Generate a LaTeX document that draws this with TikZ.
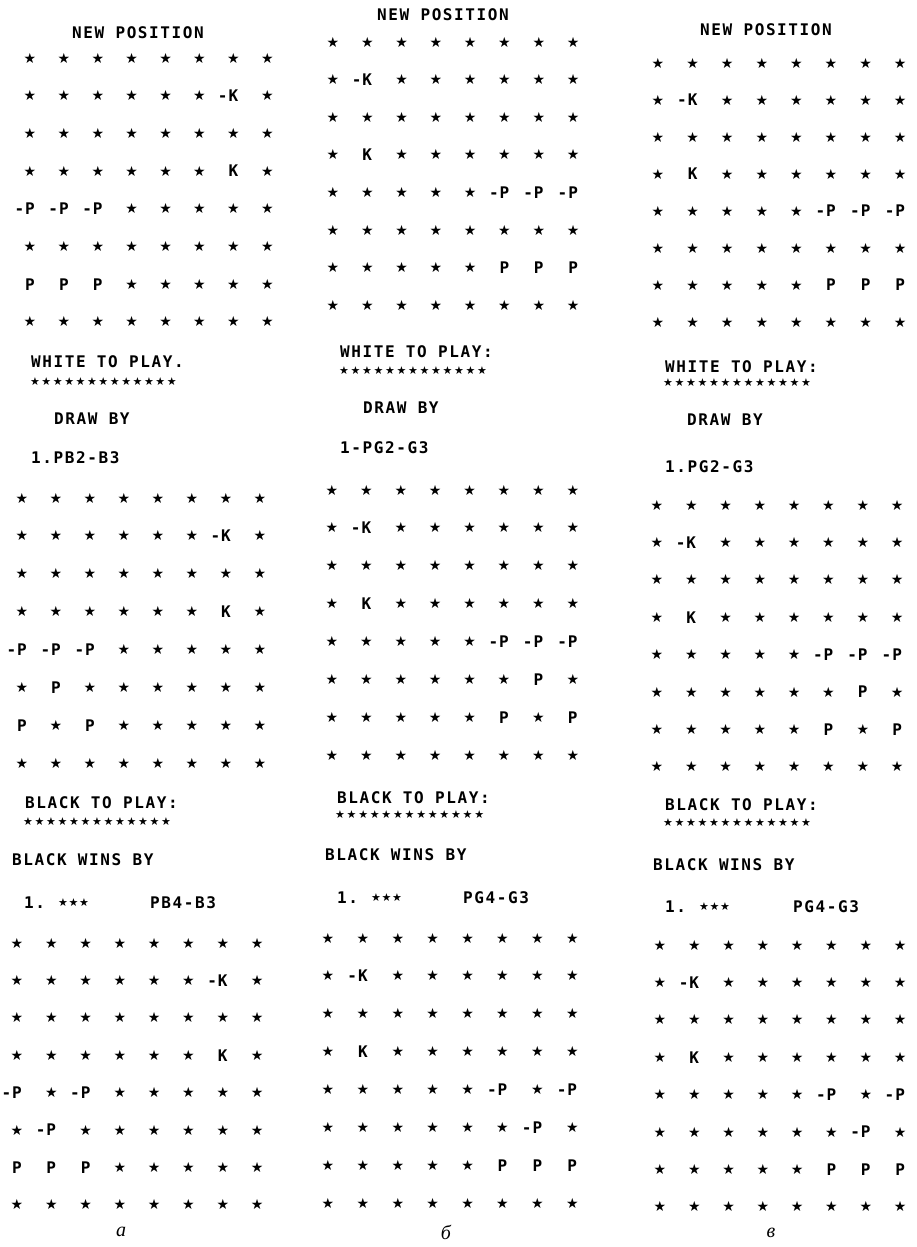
\documentclass[tikz,border=0pt]{standalone}
\usepackage{fontspec}
\newfontfamily\pfont[LetterSpace=10]{DejaVu Sans Mono Bold}
\newfontfamily\sfont{DejaVu Sans}
\newfontfamily\capfont{Liberation Serif}
\newcommand\bstar{{\sfont\fontsize{14}{14}\selectfont ★}}
\def\cells{\bstar}
\def\cellK{K}
\def\cellk{\llap{-\kern1pt}K}
\def\cellP{P}
\def\cellp{\llap{-\kern1pt}P}
\tikzset{
  cell/.style={inner sep=0pt, font=\pfont\fontsize{16}{16}\selectfont},
  txt/.style={anchor=west, inner sep=0pt, font=\pfont\fontsize{16}{16}\selectfont},
  hst/.style={inner sep=0pt, font=\sfont\fontsize{11}{11}\selectfont},
  labelcap/.style={inner sep=0pt, font=\capfont\itshape\fontsize{20}{20}\selectfont}
}
% #1 name, #2 x0, #3 dx, #4 y0, #5 dy, #6 rows
\newcommand\chessboard[6]{%
  \foreach \row [count=\r from 0] in {#6} {
    \foreach \c [count=\k from 0] in \row {
      \node[cell] (#1-\r-\k) at ({#2+\k*#3},{#4+\r*#5}) {\csname cell\c\endcsname};
    }
  }}
% #1 name, #2 x0, #3 pitch, #4 y
\newcommand\starrow[4]{%
  \foreach \i in {0,...,12} {\node[hst] (#1-\i) at ({#2+\i*#3},#4) {★};}}
% #1 name, #2 x0, #3 y
\newcommand\threestars[3]{%
  \foreach \i in {0,1,2} {\node[hst] (#1-\i) at ({#2+\i*10.5},#3) {★};}}
\begin{document}
\begin{tikzpicture}[x=1pt,y=-1pt]
\useasboundingbox (0,0) rectangle (917,1247);
% ---------------- column a ----------------
\node[txt] (a-new) at (72,33) {NEW POSITION};
\chessboard{a1}{30}{33.9}{58}{37.7}{
 {s,s,s,s,s,s,s,s},{s,s,s,s,s,s,k,s},{s,s,s,s,s,s,s,s},{s,s,s,s,s,s,K,s},
 {p,p,p,s,s,s,s,s},{s,s,s,s,s,s,s,s},{P,P,P,s,s,s,s,s},{s,s,s,s,s,s,s,s}}
\node[txt] (a-wtp) at (31,362) {WHITE TO PLAY.};
\starrow{a-ws}{35}{11.4}{382}
\node[txt] (a-draw) at (54,419) {DRAW BY};
\node[txt] (a-mv1) at (31,458) {1.PB2-B3};
\chessboard{a2}{22}{34}{498}{37.9}{
 {s,s,s,s,s,s,s,s},{s,s,s,s,s,s,k,s},{s,s,s,s,s,s,s,s},{s,s,s,s,s,s,K,s},
 {p,p,p,s,s,s,s,s},{s,P,s,s,s,s,s,s},{P,s,P,s,s,s,s,s},{s,s,s,s,s,s,s,s}}
\node[txt] (a-btp) at (25,803) {BLACK TO PLAY:};
\starrow{a-bs}{28}{11.5}{822}
\node[txt] (a-bw) at (12,860) {BLACK WINS BY};
\node[txt] (a-m1) at (24,903) {1.};
\threestars{a-d1}{63}{903}
\node[txt] (a-m2) at (150,903) {PB4-B3};
\chessboard{a3}{17}{34.3}{943}{37.4}{
 {s,s,s,s,s,s,s,s},{s,s,s,s,s,s,k,s},{s,s,s,s,s,s,s,s},{s,s,s,s,s,s,K,s},
 {p,s,p,s,s,s,s,s},{s,p,s,s,s,s,s,s},{P,P,P,s,s,s,s,s},{s,s,s,s,s,s,s,s}}
\node[labelcap] (a-lab) at (121,1232) {а};
% ---------------- column b ----------------
\node[txt] (b-new) at (377,15) {NEW POSITION};
\chessboard{b1}{333}{34.3}{42}{37.6}{
 {s,s,s,s,s,s,s,s},{s,k,s,s,s,s,s,s},{s,s,s,s,s,s,s,s},{s,K,s,s,s,s,s,s},
 {s,s,s,s,s,p,p,p},{s,s,s,s,s,s,s,s},{s,s,s,s,s,P,P,P},{s,s,s,s,s,s,s,s}}
\node[txt] (b-wtp) at (340,352) {WHITE TO PLAY:};
\starrow{b-ws}{344}{11.5}{371}
\node[txt] (b-draw) at (363,408) {DRAW BY};
\node[txt] (b-mv1) at (340,448) {1-PG2-G3};
\chessboard{b2}{332}{34.4}{490}{37.9}{
 {s,s,s,s,s,s,s,s},{s,k,s,s,s,s,s,s},{s,s,s,s,s,s,s,s},{s,K,s,s,s,s,s,s},
 {s,s,s,s,s,p,p,p},{s,s,s,s,s,s,P,s},{s,s,s,s,s,P,s,P},{s,s,s,s,s,s,s,s}}
\node[txt] (b-btp) at (337,798) {BLACK TO PLAY:};
\starrow{b-bs}{340}{11.6}{815}
\node[txt] (b-bw) at (325,855) {BLACK WINS BY};
\node[txt] (b-m1) at (337,898) {1.};
\threestars{b-d1}{376}{898}
\node[txt] (b-m2) at (463,898) {PG4-G3};
\chessboard{b3}{328}{34.9}{938}{37.9}{
 {s,s,s,s,s,s,s,s},{s,k,s,s,s,s,s,s},{s,s,s,s,s,s,s,s},{s,K,s,s,s,s,s,s},
 {s,s,s,s,s,p,s,p},{s,s,s,s,s,s,p,s},{s,s,s,s,s,P,P,P},{s,s,s,s,s,s,s,s}}
\node[labelcap] (b-lab) at (446,1232) {б};
% ---------------- column c ----------------
\node[txt] (c-new) at (700,30) {NEW POSITION};
\chessboard{c1}{658}{34.6}{63}{37}{
 {s,s,s,s,s,s,s,s},{s,k,s,s,s,s,s,s},{s,s,s,s,s,s,s,s},{s,K,s,s,s,s,s,s},
 {s,s,s,s,s,p,p,p},{s,s,s,s,s,s,s,s},{s,s,s,s,s,P,P,P},{s,s,s,s,s,s,s,s}}
\node[txt] (c-wtp) at (665,367) {WHITE TO PLAY:};
\starrow{c-ws}{668}{11.5}{383}
\node[txt] (c-draw) at (687,420) {DRAW BY};
\node[txt] (c-mv1) at (665,467) {1.PG2-G3};
\chessboard{c2}{657}{34.3}{505}{37.4}{
 {s,s,s,s,s,s,s,s},{s,k,s,s,s,s,s,s},{s,s,s,s,s,s,s,s},{s,K,s,s,s,s,s,s},
 {s,s,s,s,s,p,p,p},{s,s,s,s,s,s,P,s},{s,s,s,s,s,P,s,P},{s,s,s,s,s,s,s,s}}
\node[txt] (c-btp) at (665,805) {BLACK TO PLAY:};
\starrow{c-bs}{668}{11.5}{823}
\node[txt] (c-bw) at (653,865) {BLACK WINS BY};
\node[txt] (c-m1) at (665,907) {1.};
\threestars{c-d1}{704}{907}
\node[txt] (c-m2) at (793,907) {PG4-G3};
\chessboard{c3}{660}{34.3}{945}{37.4}{
 {s,s,s,s,s,s,s,s},{s,k,s,s,s,s,s,s},{s,s,s,s,s,s,s,s},{s,K,s,s,s,s,s,s},
 {s,s,s,s,s,p,s,p},{s,s,s,s,s,s,p,s},{s,s,s,s,s,P,P,P},{s,s,s,s,s,s,s,s}}
\node[labelcap] (c-lab) at (771,1233) {в};
\end{tikzpicture}
\end{document}
